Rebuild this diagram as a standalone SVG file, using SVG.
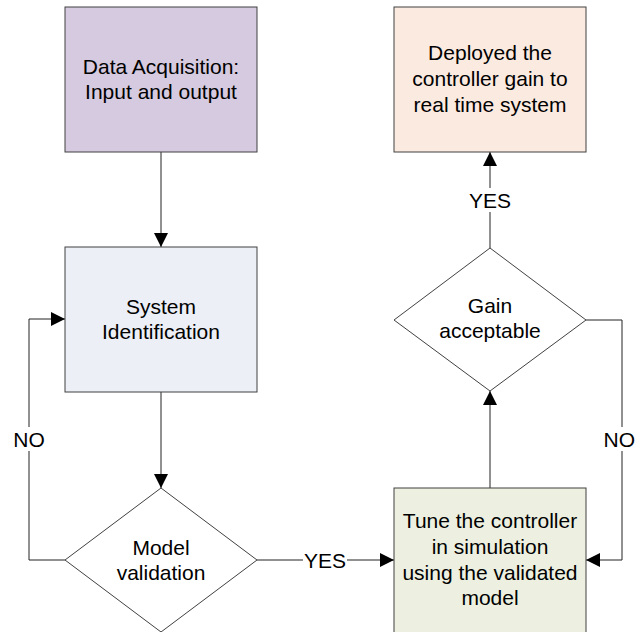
<svg xmlns="http://www.w3.org/2000/svg" width="636" height="632" viewBox="0 0 636 632">
  <style>
    text { font-family: "Liberation Sans", Arial, sans-serif; font-size: 21px; fill: #000; text-anchor: middle; }
    text.end { text-anchor: end; }
    .box { stroke: #404040; stroke-width: 1; }
    .edge { fill: none; stroke: #222; stroke-width: 1; }
    .lbl-bg { fill: #fff; }
  </style>
  <defs>
    <marker id="arrow" markerUnits="userSpaceOnUse" markerWidth="14" markerHeight="14" refX="14" refY="7" orient="auto">
      <path d="M0,0 L14,7 L0,14 Z" fill="#000"/>
    </marker>
  </defs>

  <rect width="636" height="632" fill="#fff"/>

  <!-- connectors -->
  <g id="connectors">
    <path class="edge" d="M161,152 V247" marker-end="url(#arrow)"/>
    <path class="edge" d="M161,392 V488" marker-end="url(#arrow)"/>
    <path class="edge" d="M65,560 H29 V319 H65" marker-end="url(#arrow)"/>
    <path class="edge" d="M257,560 H394" marker-end="url(#arrow)"/>
    <path class="edge" d="M490,488 V391" marker-end="url(#arrow)"/>
    <path class="edge" d="M586,320 H622 V560 H586" marker-end="url(#arrow)"/>
    <path class="edge" d="M490,248 V152" marker-end="url(#arrow)"/>

    <rect class="lbl-bg" x="13" y="427" width="33" height="24"/>
    <text x="29" y="447">NO</text>
    <rect class="lbl-bg" x="603" y="427" width="33" height="24"/>
    <text class="end" x="635" y="447">NO</text>
    <rect class="lbl-bg" x="303" y="548" width="44" height="24"/>
    <text x="325" y="568">YES</text>
    <rect class="lbl-bg" x="468" y="188" width="44" height="24"/>
    <text x="490" y="208">YES</text>
  </g>

  <g id="data-acquisition">
    <rect class="box" x="65" y="7" width="192" height="145" fill="#d5cadf"/>
    <text x="161" y="74">Data Acquisition:</text>
    <text x="161" y="99">Input and output</text>
  </g>

  <g id="system-identification">
    <rect class="box" x="65" y="247" width="192" height="145" fill="#eceff5"/>
    <text x="161" y="314">System</text>
    <text x="161" y="339">Identification</text>
  </g>

  <g id="model-validation">
    <polygon class="box" points="161,488 257,560 161,632 65,560" fill="#fff"/>
    <text x="161" y="555">Model</text>
    <text x="161" y="580">validation</text>
  </g>

  <g id="tune-controller">
    <rect class="box" x="394" y="488" width="192" height="145" fill="#edf0e0"/>
    <text x="490" y="528">Tune the controller</text>
    <text x="490" y="554">in simulation</text>
    <text x="490" y="580">using the validated</text>
    <text x="490" y="605">model</text>
  </g>

  <g id="gain-acceptable">
    <polygon class="box" points="490,248 586,320 490,391 394,320" fill="#fff"/>
    <text x="490" y="313">Gain</text>
    <text x="490" y="338">acceptable</text>
  </g>

  <g id="deploy">
    <rect class="box" x="394" y="7" width="192" height="145" fill="#fbeae0"/>
    <text x="490" y="60">Deployed the</text>
    <text x="490" y="86">controller gain to</text>
    <text x="490" y="112">real time system</text>
  </g>
</svg>
